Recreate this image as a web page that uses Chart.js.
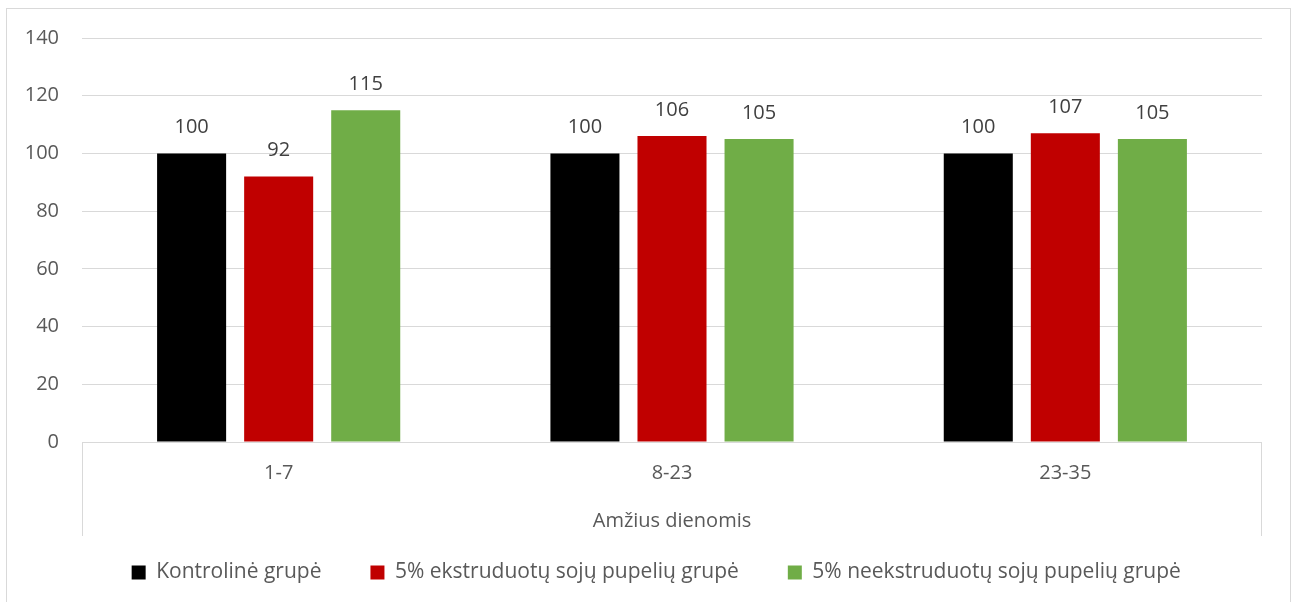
<!DOCTYPE html>
<html>
<head>
<meta charset="utf-8">
<script src="https://cdn.jsdelivr.net/npm/chart.js@4/dist/chart.umd.min.js"></script>
<style>
  body { margin: 0; background: #fff; }
  #frame {
    position: absolute; left: 6px; top: 8px; width: 1285px; height: 600px;
    border: 1px solid #d9d9d9; box-sizing: border-box;
  }
  #chart { position: absolute; left: 0; top: 0; }
</style>
</head>
<body>
<div id="frame"></div>
<canvas id="chart" width="1297" height="602"></canvas>
<script>
const ageGroups = ["1-7", "8-23", "23-35"];
const controlGroup = [100, 100, 100];
const extrudedSoy = [92, 106, 107];
const rawSoy = [115, 105, 105];
const seriesNames = [
  "Kontrolinė grupė",
  "5% ekstruduotų sojų pupelių grupė",
  "5% neekstruduotų sojų pupelių grupė",
];
const seriesColors = ["#000000", "#C00000", "#70AD47"];

const FONT = "'Open Sans', sans-serif";
const FS = 20;
const GRID = "#d9d9d9";

// value labels above each bar
const barValues = {
  id: "barValues",
  afterDatasetsDraw(chart) {
    const ctx = chart.ctx;
    ctx.save();
    ctx.font = FS + "px " + FONT;
    ctx.fillStyle = "#404040";
    ctx.textAlign = "center";
    ctx.textBaseline = "middle";
    chart.data.datasets.forEach((ds, i) => {
      chart.getDatasetMeta(i).data.forEach((bar, j) => {
        ctx.fillText(ds.data[j], bar.x, bar.y - 26);
      });
    });
    ctx.restore();
  },
};

// outer edges of the category axis box
const categoryBox = {
  id: "categoryBox",
  afterDraw(chart) {
    const x = chart.scales.x;
    const top = chart.chartArea.bottom;
    const bottom = top + 94;
    const ctx = chart.ctx;
    ctx.save();
    ctx.strokeStyle = GRID;
    ctx.lineWidth = 1;
    ctx.beginPath();
    ctx.moveTo(Math.round(x.left) + 0.5, top);
    ctx.lineTo(Math.round(x.left) + 0.5, bottom);
    ctx.moveTo(Math.round(x.right) - 0.5, top);
    ctx.lineTo(Math.round(x.right) - 0.5, bottom);
    ctx.stroke();
    ctx.restore();
  },
};

const makeSet = (label, data, color) => ({
  label: label,
  data: data,
  backgroundColor: color,
  borderWidth: 0,
  categoryPercentage: 0.664,
  barPercentage: 0.793,
});

const defaultLabels = Chart.defaults.plugins.legend.labels.generateLabels;

new Chart(document.getElementById("chart"), {
  type: "bar",
  data: {
    labels: ageGroups,
    datasets: [
      makeSet(seriesNames[0], controlGroup, seriesColors[0]),
      makeSet(seriesNames[1], extrudedSoy, seriesColors[1]),
      makeSet(seriesNames[2], rawSoy, seriesColors[2]),
    ],
  },
  options: {
    responsive: false,
    animation: false,
    layout: { padding: { top: 38, right: 35, bottom: 9, left: 0 } },
    plugins: {
      tooltip: { enabled: false },
      legend: {
        position: "bottom",
        fullSize: false,
        labels: {
          font: { family: FONT, size: 21 },
          color: "#595959",
          boxWidth: 14,
          boxHeight: 14,
          padding: 28,
          // wider gap between legend entries
          generateLabels(chart) {
            const items = defaultLabels(chart);
            items.forEach((it, i) => {
              it.text += i < items.length - 1 ? "\u2003" : "\u2003\u2002";
            });
            return items;
          },
        },
      },
    },
    scales: {
      x: {
        grid: { display: false, drawTicks: false },
        border: { display: false },
        ticks: { font: { family: FONT, size: FS }, color: "#595959", padding: 19 },
        title: {
          display: true,
          text: "Amžius dienomis",
          font: { family: FONT, size: FS },
          color: "#595959",
          padding: { top: 0, bottom: 1 },
        },
        afterFit(scale) { scale.height = 92; },
      },
      y: {
        min: 0,
        max: 140,
        ticks: {
          stepSize: 20,
          font: { family: FONT, size: FS },
          color: "#595959",
          padding: 23,
        },
        grid: { color: GRID, lineWidth: 1, drawTicks: false },
        border: { display: false },
        afterFit(scale) { scale.width = 82; },
      },
    },
  },
  plugins: [barValues, categoryBox],
});
</script>
</body>
</html>
